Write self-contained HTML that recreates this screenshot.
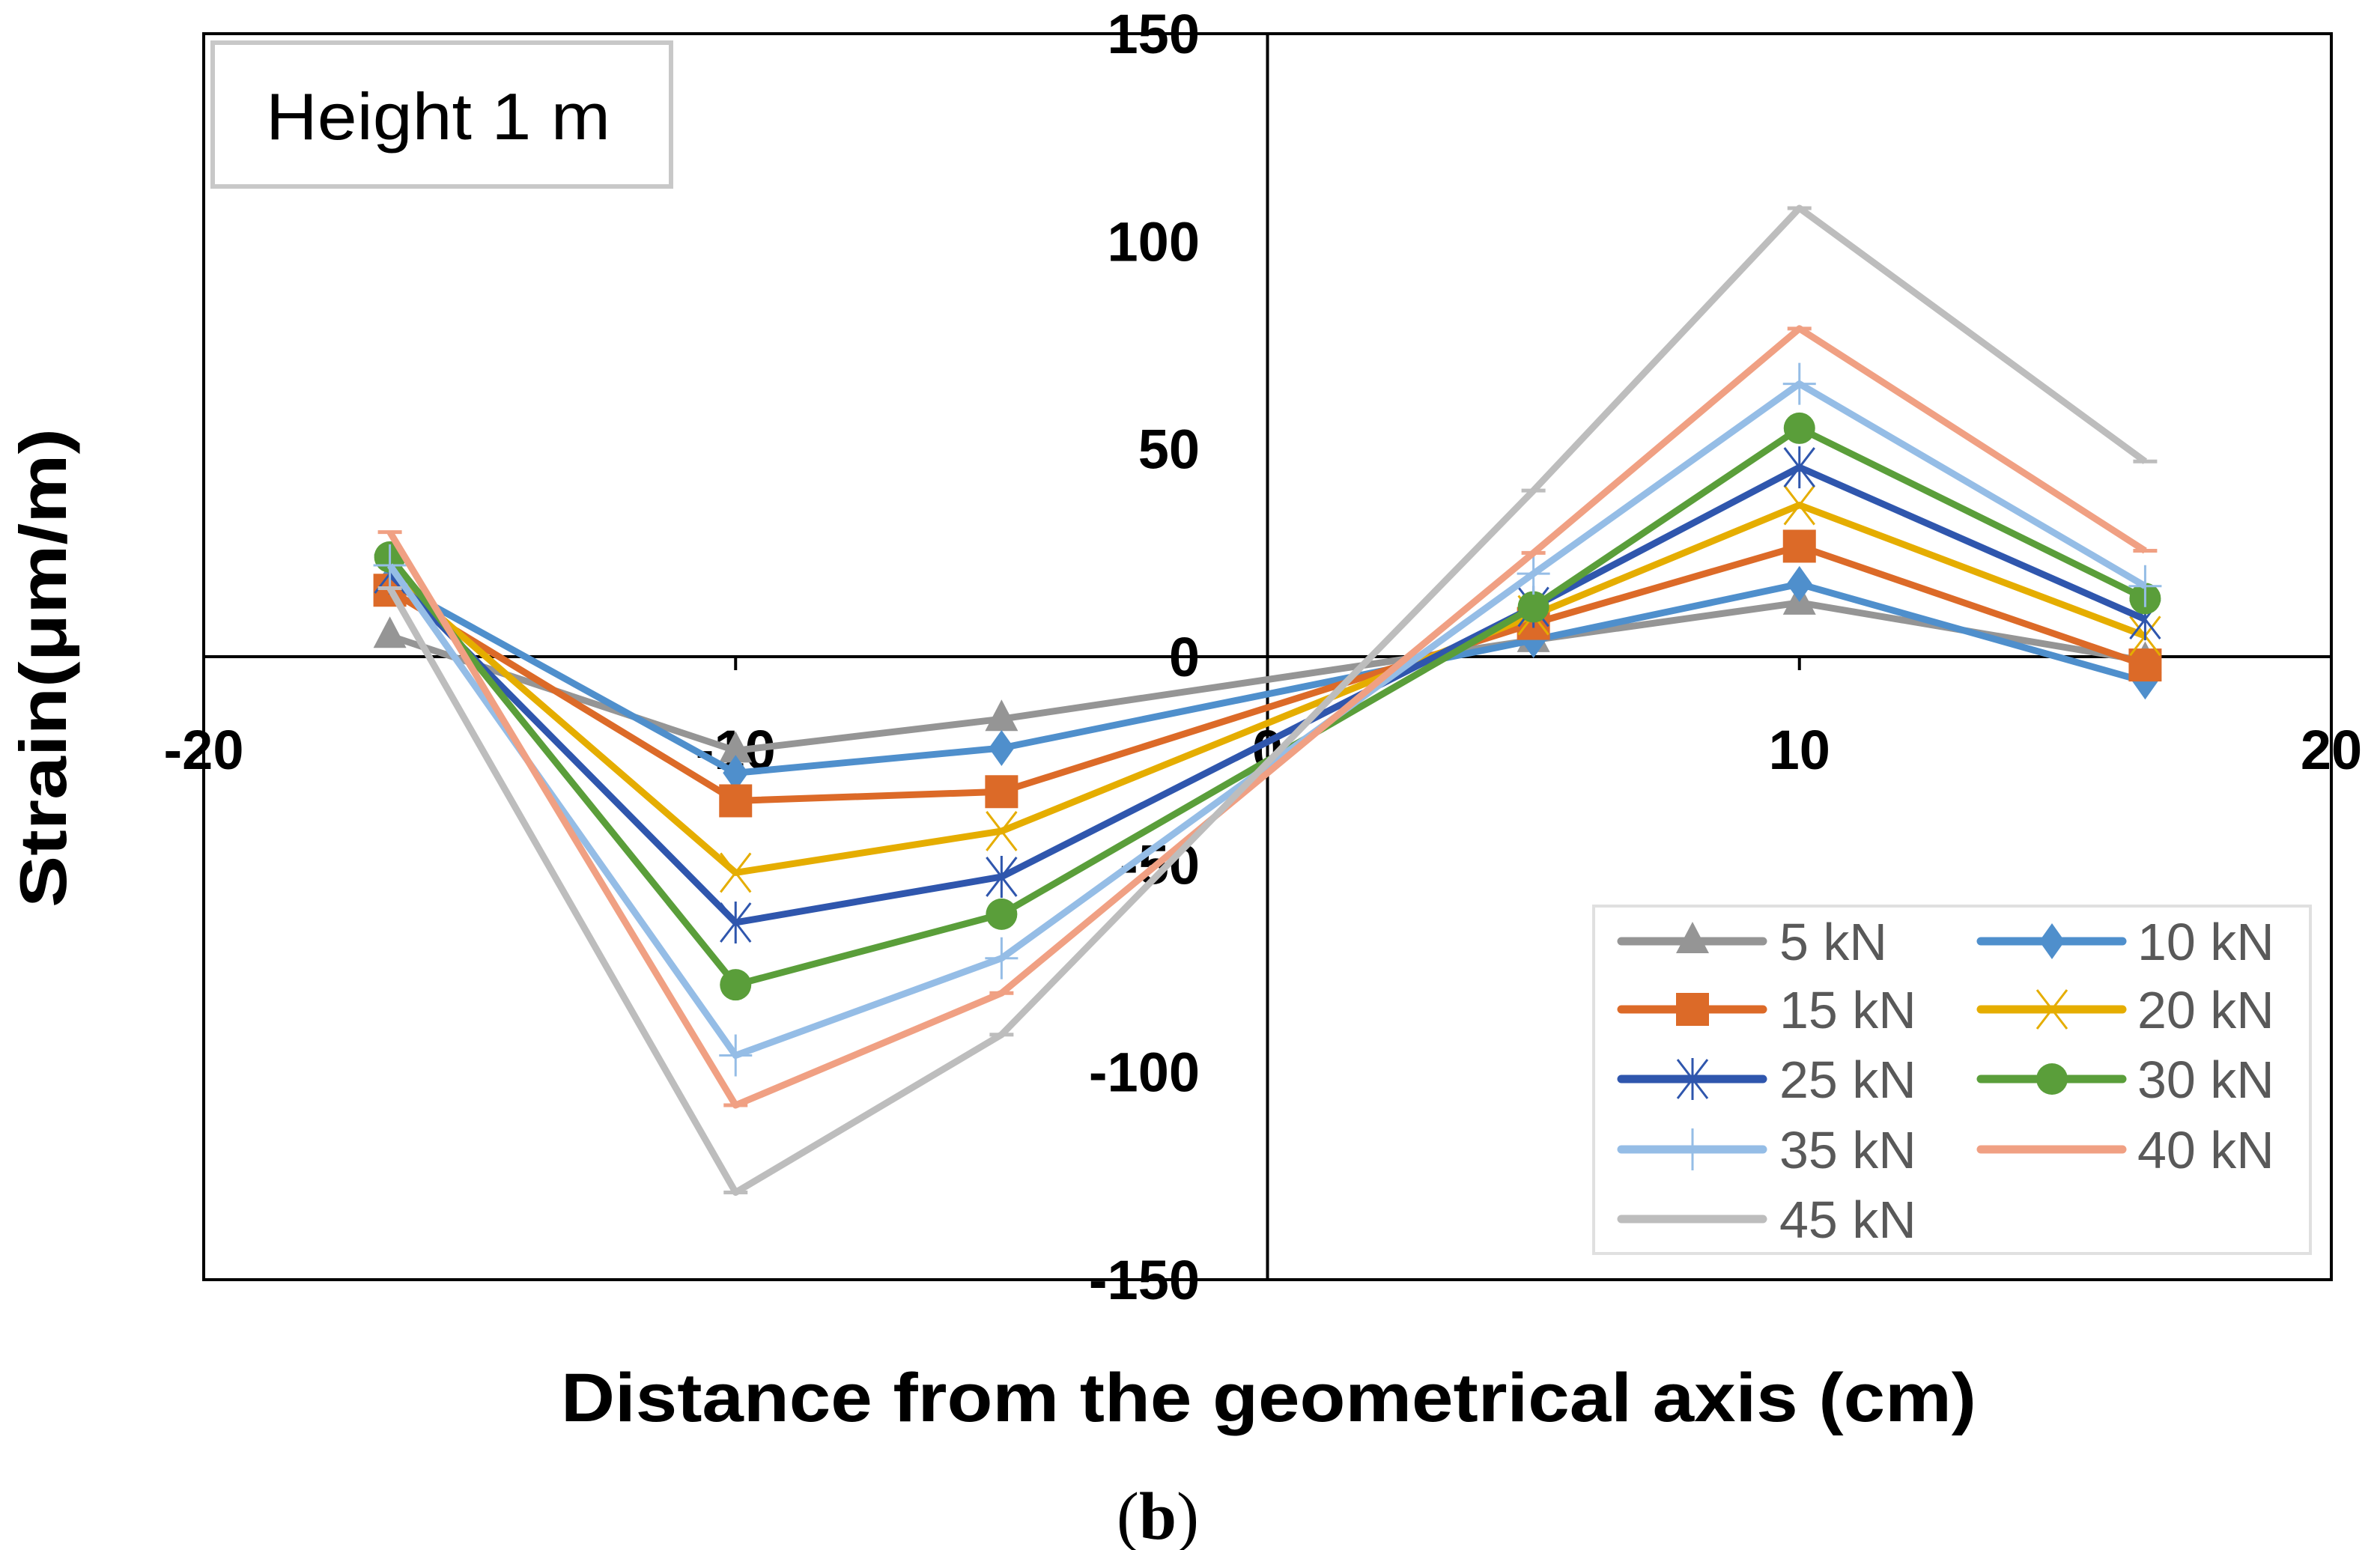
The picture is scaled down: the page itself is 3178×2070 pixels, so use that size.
<!DOCTYPE html>
<html><head><meta charset="utf-8"><style>html,body{margin:0;padding:0;background:#fff}svg{display:block}</style></head>
<body>
<svg id="chart" width="3178" height="2070" viewBox="0 0 3178 2070" xmlns="http://www.w3.org/2000/svg" font-family="'Liberation Sans', sans-serif">
<rect x="272" y="45" width="2841" height="1664" fill="none" stroke="#000" stroke-width="4"/>
<g id="axes"></g>
<g id="series"></g>
<rect x="284" y="57" width="612" height="192" fill="#fff" stroke="#c8c8c8" stroke-width="6"/>
<text x="355" y="186" font-size="88" fill="#000" textLength="460" lengthAdjust="spacingAndGlyphs">Height 1 m</text>
<text x="1694" y="1898" font-size="92" font-weight="bold" text-anchor="middle" textLength="1890" lengthAdjust="spacingAndGlyphs">Distance from the geometrical axis (cm)</text>
<text transform="translate(88,892) rotate(-90)" font-size="88" font-weight="bold" text-anchor="middle" textLength="640" lengthAdjust="spacingAndGlyphs">Strain(μm/m)</text>
<text x="1546" y="2055" font-size="90" font-family="'Liberation Serif', serif" text-anchor="middle">(<tspan font-weight="bold">b</tspan>)</text>
<g id="legend"></g>
</svg>
<script>
const xPositions = [-16.5, -10, -5, 5, 10, 16.5];
const seriesNames = ["5 kN","10 kN","15 kN","20 kN","25 kN","30 kN","35 kN","40 kN","45 kN"];
const s5  = [5, -22.6, -15, 4, 13, -1];
const s10 = [18, -28, -22, 4, 17.5, -6];
const s15 = [16, -34.7, -32.5, 8, 26.6, -2];
const s20 = [20, -52, -42, 10, 36.5, 5];
const s25 = [20, -64, -53, 12, 45.6, 9];
const s30 = [24, -79, -62, 12, 55, 14];
const s35 = [22, -96, -72.6, 20, 65.7, 17];
const s40 = [30, -108, -81, 25, 79, 25.5];
const s45 = [16.5, -129, -91, 40, 108, 47];
const xTicks = [-20, -10, 0, 10, 20];
const yTicks = [150, 100, 50, 0, -50, -100, -150];

const NS = "http://www.w3.org/2000/svg";
const X0 = 272, X1 = 3113, Y0 = 1709, Y1 = 45;
function xs(v){ return X0 + (v + 20) / 40 * (X1 - X0); }
function ys(v){ return Y0 - (v + 150) / 300 * (Y0 - Y1); }
function mk(tag, attrs, parent){ const e = document.createElementNS(NS, tag); for (const k in attrs) e.setAttribute(k, attrs[k]); parent.appendChild(e); return e; }

const axes = document.getElementById('axes');
let l = mk('line', {x1: X0, x2: X1, y1: ys(0), y2: ys(0), stroke: '#000', 'stroke-width': 4}, axes);


l = mk('line', {x1: xs(0), x2: xs(0), y1: Y1, y2: Y0, stroke: '#000', 'stroke-width': 4}, axes);


xTicks.forEach(t => {
  const tk = mk('line', {x1: xs(t), x2: xs(t), y1: ys(0), y2: ys(0) + 18, stroke: '#000', 'stroke-width': 4}, axes);
  
  
  const tx = mk('text', {x: xs(t), y: ys(0) + 150, 'font-size': 74, 'font-weight': 'bold', 'text-anchor': 'middle'}, axes);
  
  
  tx.textContent = t;
});
yTicks.forEach(t => {
  const tx = mk('text', {x: 1602, y: ys(t) + 26, 'font-size': 74, 'font-weight': 'bold', 'text-anchor': 'end'}, axes);
  
  
  tx.textContent = t;
});

const allSeries = [s5, s10, s15, s20, s25, s30, s35, s40, s45];
const colors = ["#959595","#4f8fcc","#dc6a28","#e5ad00","#2f56ad","#5a9e3a","#95bde6","#f0a083","#bdbdbd"];
const markers = ["tri","dia","sq","x","star","circ","plus","dash","dash"];

function marker(g, type, cx, cy, c, sc){
  const s = sc || 1;
  let e;
  if (type === 'tri') e = mk('polygon', {points: `${cx},${cy-26*s} ${cx-22*s},${cy+16*s} ${cx+22*s},${cy+16*s}`, fill: c}, g);
  else if (type === 'dia') e = mk('polygon', {points: `${cx},${cy-24*s} ${cx+17*s},${cy} ${cx},${cy+24*s} ${cx-17*s},${cy}`, fill: c}, g);
  else if (type === 'sq') e = mk('rect', {x: cx-22*s, y: cy-22*s, width: 44*s, height: 44*s, fill: c}, g);
  else if (type === 'circ') e = mk('circle', {cx: cx, cy: cy, r: 21*s, fill: c}, g);
  else if (type === 'x') e = mk('path', {d: `M${cx-20*s} ${cy-26*s}L${cx+20*s} ${cy+26*s}M${cx+20*s} ${cy-26*s}L${cx-20*s} ${cy+26*s}`, stroke: c, 'stroke-width': 3, fill: 'none'}, g);
  else if (type === 'star') e = mk('path', {d: `M${cx-20*s} ${cy-26*s}L${cx+20*s} ${cy+26*s}M${cx+20*s} ${cy-26*s}L${cx-20*s} ${cy+26*s}M${cx} ${cy-28*s}L${cx} ${cy+28*s}`, stroke: c, 'stroke-width': 3, fill: 'none'}, g);
  else if (type === 'plus') e = mk('path', {d: `M${cx} ${cy-28*s}L${cx} ${cy+28*s}M${cx-22*s} ${cy}L${cx+22*s} ${cy}`, stroke: c, 'stroke-width': 3, fill: 'none'}, g);
  else e = mk('path', {d: `M${cx-16} ${cy}L${cx+16} ${cy}`, stroke: c, 'stroke-width': 5, fill: 'none'}, g);
  
  
}

const sg = document.getElementById('series');
allSeries.forEach((arr, i) => {
  const g = mk('g', {}, sg);
  
  
  const pts = arr.map((v, j) => xs(xPositions[j]) + ',' + ys(v)).join(' ');
  const pl = mk('polyline', {points: pts, fill: 'none', stroke: colors[i], 'stroke-width': 9, 'stroke-linejoin': 'round'}, g);
  
  
  arr.forEach((v, j) => marker(g, markers[i], xs(xPositions[j]), ys(v), colors[i]));
});

const lg = document.getElementById('legend');
const box = mk('rect', {x: 2128, y: 1210, width: 957, height: 464, fill: '#fff', stroke: '#e0e0e0', 'stroke-width': 4}, lg);


const rowsY = [1257, 1348, 1441, 1535, 1628];
seriesNames.forEach((n, i) => {
  const col = i % 2, row = Math.floor(i / 2);
  const lx = col ? 2645 : 2165, tx = col ? 2854 : 2376, y = rowsY[row];
  const g = mk('g', {}, lg);
  
  
  mk('line', {x1: lx, x2: lx + 189, y1: y, y2: y, stroke: colors[i], 'stroke-width': 11, 'stroke-linecap': 'round'}, g);
  if (markers[i] !== 'dash') marker(g, markers[i], lx + 95, y, colors[i]);
  const t = mk('text', {x: tx, y: y + 25, 'font-size': 70, fill: '#595959'}, g);
  t.textContent = n;
});
</script>
</body></html>
